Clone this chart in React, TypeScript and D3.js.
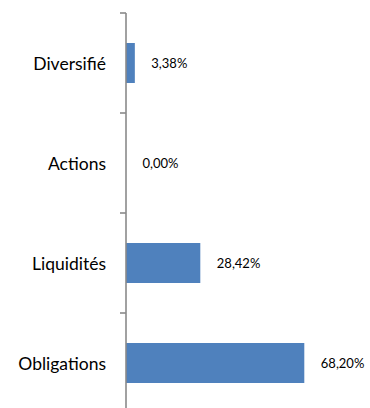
import React from "react";
import * as d3 from "d3";

const categories = ["Diversifié", "Actions", "Liquidités", "Obligations"];
const values = [3.38, 0.0, 28.42, 68.2];
const valueLabels = ["3,38%", "0,00%", "28,42%", "68,20%"];

const W = 370;
const H = 408;

export default function App() {
  const y = d3
    .scaleBand<string>()
    .domain(categories)
    .range([13, 413])
    .paddingInner(0.6)
    .paddingOuter(0.3);
  const x = d3.scaleLinear().domain([0, 80]).range([126, 126 + 2.6144 * 80]);
  const step = y.step();
  const top = 13;
  const boundaries = d3.range(categories.length + 1).map((i) => top + i * step);
  const font = "Lato, 'Liberation Sans', Arial, sans-serif";

  return (
    <svg
      width={W}
      height={H}
      style={{ position: "fixed", left: 0, top: 0, background: "#fff" }}
    >
      {categories.map((c, i) => {
        const yy = y(c)!;
        const bw = y.bandwidth();
        return (
          <g key={c}>
            <rect
              x={x(0)}
              y={yy}
              width={x(values[i]) - x(0)}
              height={bw}
              fill="#4F81BD"
            />
            <text
              x={106}
              y={yy + bw / 2}
              textAnchor="end"
              dominantBaseline="central"
              fontFamily={font}
              fontSize={17.5}
              fill="#000"
            >
              {c}
            </text>
            <text
              x={x(values[i]) + 16.5}
              y={yy + bw / 2}
              dominantBaseline="central"
              fontFamily={font}
              fontSize={13}
              fill="#000"
            >
              {valueLabels[i]}
            </text>
          </g>
        );
      })}
      <line
        x1={x(0)}
        x2={x(0)}
        y1={top}
        y2={top + step * categories.length}
        stroke="#8a8a8a"
        strokeWidth={1.6}
      />
      {boundaries.map((b, i) => (
        <line
          key={i}
          x1={x(0) - 6}
          x2={x(0)}
          y1={b}
          y2={b}
          stroke="#8a8a8a"
          strokeWidth={1.6}
        />
      ))}
    </svg>
  );
}
